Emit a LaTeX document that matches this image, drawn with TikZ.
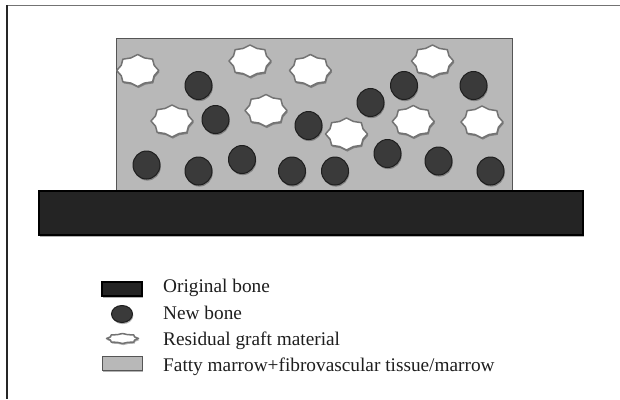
\documentclass[tikz,border=0pt]{standalone}
\usepackage{fontspec}
\setmainfont{Liberation Serif}
\usetikzlibrary{shadows}
\definecolor{marrowgray}{RGB}{184,184,184}
\definecolor{marrowedge}{RGB}{85,85,85}
\definecolor{bonefill}{RGB}{36,36,36}
\definecolor{newbonefill}{RGB}{58,58,58}
\definecolor{newboneedge}{RGB}{30,30,30}
\definecolor{graftedge}{RGB}{115,115,115}
\definecolor{txt}{RGB}{30,30,30}
\begin{document}
\begin{tikzpicture}[x=1pt,y=-1pt,
  softshadow/.style={drop shadow={shadow xshift=0.8pt,shadow yshift=-1.6pt,opacity=0.3,fill=black}},
  marrowbox/.style={fill=marrowgray,draw=marrowedge,line width=1pt},
  bonebar/.style={fill=bonefill,draw=black,line width=1.2pt,softshadow},
  newbone/.style={fill=newbonefill,draw=newboneedge,line width=1pt,softshadow},
  graft/.style={fill=white,draw=graftedge,line width=1.5pt,line join=round,softshadow},
  legtext/.style={anchor=base west,inner sep=0pt,text=txt,font=\fontsize{19.3}{22}\selectfont},
  graftstar/.pic={\path[graft] (0:21 and 16) -- (22.5:17.8 and 13.6) -- (45:21 and 16) -- (67.5:17.8 and 13.6)
     -- (90:21 and 16) -- (112.5:17.8 and 13.6) -- (135:21 and 16) -- (157.5:17.8 and 13.6)
     -- (180:21 and 16) -- (202.5:17.8 and 13.6) -- (225:21 and 16) -- (247.5:17.8 and 13.6)
     -- (270:21 and 16) -- (292.5:17.8 and 13.6) -- (315:21 and 16) -- (337.5:17.8 and 13.6) -- cycle;},
  legstar/.pic={\path[graft] (0:16 and 5) -- (22.5:13 and 4.2) -- (45:16 and 5) -- (67.5:13 and 4.2)
     -- (90:16 and 5) -- (112.5:13 and 4.2) -- (135:16 and 5) -- (157.5:13 and 4.2)
     -- (180:16 and 5) -- (202.5:13 and 4.2) -- (225:16 and 5) -- (247.5:13 and 4.2)
     -- (270:16 and 5) -- (292.5:13 and 4.2) -- (315:16 and 5) -- (337.5:13 and 4.2) -- cycle;}
]
\useasboundingbox (0,0) rectangle (620,399);
\fill[white] (0,0) rectangle (620,399);
% frame
\draw[graftedge,line width=1.5pt] (6.5,5.5) -- (620,5.5);
\draw[black!85,line width=1.5pt] (7,5) -- (7,399);

% marrow block
\draw[marrowbox] (116,38) rectangle (512,192);

% new bone
\foreach \p in {(198.5,85.5),(215.5,119.5),(308.5,125.5),(370.5,102.5),(404,85.5),(473.5,85.5),
  (146.5,165),(198.5,171),(242,159.5),(292,171),(335,171),(387.5,153.5),(438.5,161),(490.5,171)}
  \draw[newbone] \p ellipse[x radius=13.5,y radius=14];

% residual graft
\foreach \p in {(137.7,70.5),(250,61),(310.4,70.5),(432.5,61),(172,121),(266,110.5),(346.5,134),(413.2,121.5),(482,122)}
  \pic at \p {graftstar};

% original bone
\draw[bonebar] (39,191) rectangle (583,235);

% legend
\draw[bonebar] (102,282) rectangle (142,296);
\draw[newbone] (122,314) ellipse[x radius=10.5,y radius=8.5];
\pic at (122.5,338.5) {legstar};
\draw[marrowbox,softshadow] (102,356) rectangle (142,370);

\node[legtext] (t1) at (163,292.5) {Original bone};
\node[legtext] (t2) at (163,319) {New bone};
\node[legtext] (t3) at (163,345.5) {Residual graft material};
\node[legtext] (t4) at (163,371.5) {Fatty marrow+fibrovascular tissue/marrow};
\end{tikzpicture}
\end{document}
